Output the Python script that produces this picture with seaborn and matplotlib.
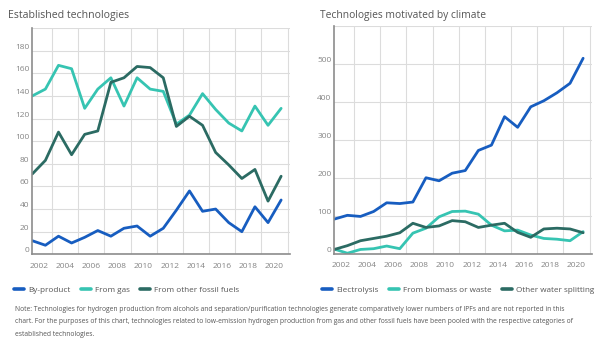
import matplotlib
matplotlib.use("Agg")
import matplotlib.pyplot as plt
from matplotlib.ticker import FixedLocator
from matplotlib.lines import Line2D
import seaborn as sns
import pandas as pd

years = list(range(2001, 2021))
tick_labels = ["2002", "2004", "2006", "2008", "2010", "2012", "2014", "2016", "2018", "2020"]

by_product = [12, 8, 16, 10, 15, 21, 16, 23, 25, 16, 23, 39, 56, 38, 40, 28, 20, 42, 28, 48]
from_gas = [140, 146, 167, 164, 129, 146, 156, 131, 156, 146, 144, 115, 123, 142, 128, 116, 109, 131, 114, 129]
other_fossil = [71, 83, 108, 88, 106, 109, 152, 156, 166, 165, 156, 113, 122, 114, 90, 79, 67, 75, 47, 69]

electrolysis = [92, 102, 99, 112, 135, 133, 137, 201, 193, 213, 220, 273, 287, 362, 334, 388, 404, 425, 450, 516]
biomass = [13, 2, 12, 14, 21, 14, 55, 68, 98, 112, 113, 105, 76, 61, 63, 50, 41, 39, 35, 59]
water_split = [12, 22, 35, 41, 47, 56, 81, 70, 74, 88, 85, 70, 76, 81, 57, 44, 66, 68, 66, 56]

left_names = ["By-product", "From gas", "From other fossil fuels"]
right_names = ["Electrolysis", "From biomass or waste", "Other water splitting"]
colors = ["#175dc0", "#36c4b2", "#2b6b63"]

left_df = pd.DataFrame({
    "year": years * 3,
    "value": by_product + from_gas + other_fossil,
    "series": sum([[n] * len(years) for n in left_names], []),
})
right_df = pd.DataFrame({
    "year": years * 3,
    "value": electrolysis + biomass + water_split,
    "series": sum([[n] * len(years) for n in right_names], []),
})

sns.set_theme(style="white")
plt.rcParams["font.family"] = ["Open Sans", "DejaVu Sans"]

fig = plt.figure(figsize=(6.02, 3.38), dpi=100)
ax1 = fig.add_axes([32.3 / 602, 1 - 254.3 / 338, 258 / 602, 226.3 / 338])
ax2 = fig.add_axes([334.3 / 602, 1 - 254.0 / 338, 258 / 602, 227.6 / 338])

grid_c = "#dcdcdc"
tick_c = "#858585"
title_c = "#555555"

def style(ax, df, names, ymax, ystep):
    sns.lineplot(data=df, x="year", y="value", hue="series", hue_order=names,
                 palette=colors, linewidth=2.0, ax=ax, legend=False)
    ax.set_xlim(2001, 2020.7)
    ax.set_ylim(0, ymax)
    yt = list(range(0, ymax + 1, ystep))
    ax.set_yticks(yt)
    ax.set_yticklabels([str(v) if v < ymax else "" for v in yt])
    ax.set_xticks([int(t) - 0.5 for t in tick_labels])
    ax.set_xticklabels(tick_labels)
    ax.xaxis.set_minor_locator(FixedLocator([int(t) + 0.5 for t in tick_labels]))
    ax.grid(True, which="major", axis="y", color=grid_c, linewidth=0.8)
    ax.grid(True, which="minor", axis="x", color=grid_c, linewidth=0.8)
    ax.grid(False, which="major", axis="x")
    ax.set_axisbelow(True)
    ax.set_xlabel("")
    ax.set_ylabel("")
    for s in ["top", "right"]:
        ax.spines[s].set_visible(False)
    for s in ["left", "bottom"]:
        ax.spines[s].set_color("#8c8c8c")
        ax.spines[s].set_linewidth(1.2)
    ax.tick_params(axis="both", which="both", length=0, labelsize=6.0, colors=tick_c)
    ax.tick_params(axis="x", pad=6)
    ax.tick_params(axis="y", pad=2)
    plt.setp(ax.get_yticklabels(), va="bottom")
    return [Line2D([0], [0], color=c, linewidth=2.6) for c in colors]

h1 = style(ax1, left_df, left_names, 200, 20)
h2 = style(ax2, right_df, right_names, 600, 100)

fig.text(8 / 602, 1 - 15.5 / 338, "Established technologies", fontsize=7.6,
         color=title_c, va="center", ha="left")
fig.text(320 / 602, 1 - 15.5 / 338, "Technologies motivated by climate", fontsize=7.4,
         color=title_c, va="center", ha="left")

leg_kw = dict(ncol=3, frameon=False, fontsize=5.9, handlelength=1.2,
              handletextpad=0.5, columnspacing=1.3, borderaxespad=0,
              borderpad=0, labelcolor="#555555")
fig.legend(h1, left_names, loc="center left",
           bbox_to_anchor=(14 / 602, 1 - 290 / 338), **leg_kw)
fig.legend(h2, right_names, loc="center left",
           bbox_to_anchor=(322 / 602, 1 - 290 / 338), **leg_kw)

note = ("Note: Technologies for hydrogen production from alcohols and separation/purification technologies "
        "generate comparatively lower numbers of IPFs and are not reported in this\n"
        "chart. For the purposes of this chart, technologies related to low-emission hydrogen production "
        "from gas and other fossil fuels have been pooled with the respective categories of\n"
        "established technologies.")
fig.text(15 / 602, 1 - 306 / 338, note, fontsize=4.9, color="#555555",
         va="top", ha="left", linespacing=2.05)

fig.savefig("out.png", dpi=100)
